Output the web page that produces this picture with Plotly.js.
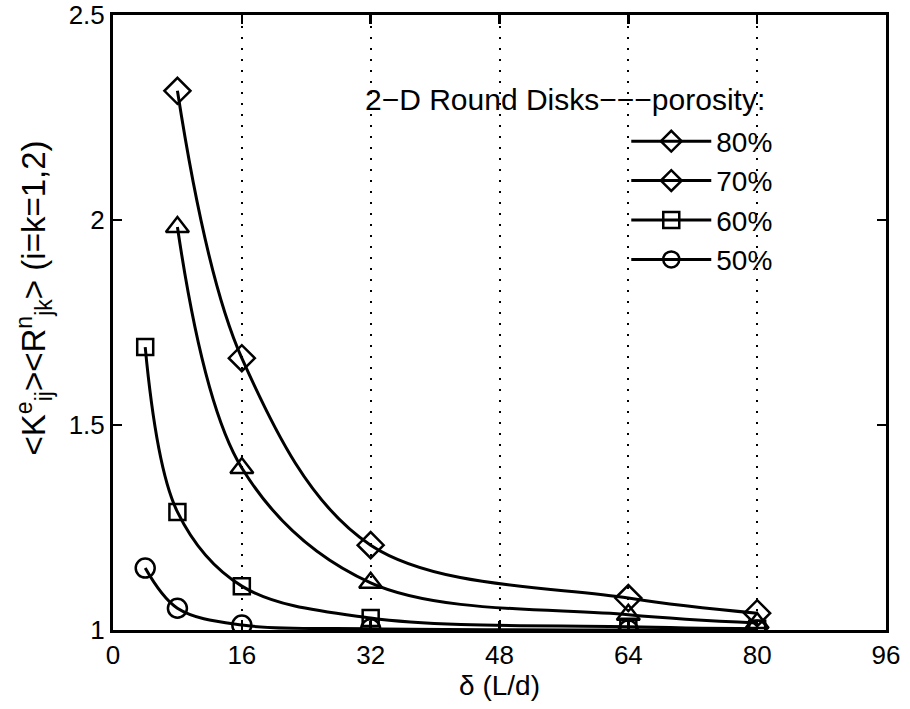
<!DOCTYPE html>
<html><head><meta charset="utf-8">
<script src="https://cdn.plot.ly/plotly-3.0.1.min.js"></script>
<style>body{margin:0;background:#fff}#chart{width:910px;height:709px}</style>
</head><body><div id="chart"></div>
<script>
// Data
const xP80 = [8, 16, 32, 64, 80];
const yP80 = [2.315, 1.663, 1.207, 1.078, 1.041];
const xP70 = [8, 16, 32, 64, 80];
const yP70 = [1.983, 1.395, 1.115, 1.037, 1.017];
const xP60 = [4, 8, 16, 32, 64, 80];
const yP60 = [1.69, 1.288, 1.107, 1.029, 1.008, 1.003];
const xP50 = [4, 8, 16, 32, 64, 80];
const yP50 = [1.151, 1.053, 1.012, 1.003, 1.0, 1.0];
const legendLabels = ['80%', '70%', '60%', '50%'];
const legendSymbols = ['diamond-open', 'diamond-open', 'square-open', 'circle-open'];
const legendSizes = [22, 22, 16, 20];
const xTicks = [0, 16, 32, 48, 64, 80, 96];
const yTicks = [1, 1.5, 2, 2.5];
const yTickText = ['1', '1.5', '2', '2.5'];

const lineStyle = {color: '#000', width: 3, shape: 'spline', smoothing: 1};
function series(x, y, sym, size) {
  return {x: x, y: y, type: 'scatter', mode: 'lines+markers', showlegend: false,
    line: lineStyle, marker: {symbol: sym, size: size, color: '#000', line: {color: '#000', width: 2.5}}};
}
const traces = [
  series(xP80, yP80, 'diamond-open', 20),
  series(xP70, yP70, 'triangle-up-open', 20),
  series(xP60, yP60, 'square-open', 16),
  series(xP50, yP50, 'circle-open', 19)
];
legendLabels.forEach(function (lab, i) {
  traces.push({x: [null], y: [null], type: 'scatter', mode: 'lines+markers', name: lab,
    legendgroup: 'g' + i, line: {color: '#000', width: 3},
    marker: {symbol: legendSymbols[i], size: legendSizes[i], color: '#000', line: {color: '#000', width: 2.5}}});
});

const fam = 'Liberation Sans, Arial, Helvetica, sans-serif';
const tickFont = {family: fam, size: 26, color: '#000'};
const bigFont = {family: fam, size: 28, color: '#000'};
const layout = {
  width: 910, height: 709,
  margin: {l: 113, r: 24, t: 15, b: 79},
  paper_bgcolor: '#fff', plot_bgcolor: '#fff',
  font: tickFont,
  xaxis: {range: [0, 96], tickvals: xTicks, ticktext: xTicks.map(String),
    showline: true, linecolor: '#000', linewidth: 3, mirror: 'ticks',
    ticks: 'inside', ticklen: 9, tickwidth: 2.5, tickcolor: '#000',
    showgrid: true, gridcolor: '#000', griddash: '2px,9px', gridwidth: 2,
    zeroline: false, tickfont: tickFont,
    title: {text: 'δ (L/d)', font: bigFont, standoff: 0}},
  yaxis: {range: [1, 2.5], tickvals: yTicks, ticktext: yTickText,
    showline: true, linecolor: '#000', linewidth: 3, mirror: 'ticks',
    ticks: 'inside', ticklen: 9, tickwidth: 2.5, tickcolor: '#000',
    showgrid: false, zeroline: false, tickfont: tickFont},
  showlegend: true,
  legend: {x: 0.664, y: 0.835, xanchor: 'left', yanchor: 'top', bgcolor: 'rgba(0,0,0,0)',
    borderwidth: 0, itemwidth: 80, tracegroupgap: 8, font: bigFont, traceorder: 'normal'},
  annotations: [
    {xref: 'paper', yref: 'paper', x: 0.585, y: 0.862, xanchor: 'center', yanchor: 'middle',
     showarrow: false, text: '2\u2212D Round Disks\u2212\u2212\u2212porosity:', font: {family: fam, size: 30, color: '#000'}},
    {xref: 'paper', yref: 'paper', x: -0.1015, y: 0.54, xanchor: 'center', yanchor: 'middle',
     textangle: -90, showarrow: false,
     text: '&lt;K<sup>e</sup><sub>ij</sub>&gt;&lt;R<sup>n</sup><sub>jk</sub>&gt; (i=k=1,2)',
     font: {family: fam, size: 33, color: '#000'}}
  ]
};
Plotly.newPlot('chart', traces, layout, {displayModeBar: false, staticPlot: true});
</script></body></html>
